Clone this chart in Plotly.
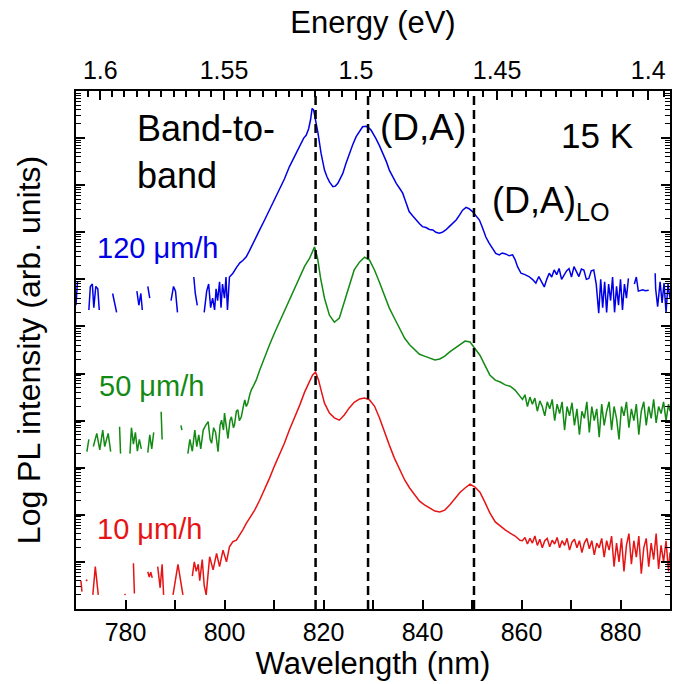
import plotly.graph_objects as go

# ---------------- data (log10 PL intensity, arb. offset per curve) ----------------
wl_120 = [770.0, 770.3, 770.6, 772.6, 772.9, 773.3, 773.6, 774.0, 774.4, 774.7, 775.0,
          777.4, 778.2, 778.5, 782.3, 782.7, 783.1, 783.4, 783.7, 784.5, 784.9, 785.2,
          789.2, 789.7, 790.1, 790.5, 790.8, 793.8, 794.1, 794.5, 794.9, 795.9, 796.4,
          796.8, 797.2, 797.6, 798.0, 798.3, 798.6, 799.0, 799.3, 799.6, 800.0, 800.3,
          800.6, 801.0, 801.7, 802.4, 803.1, 803.7, 804.4, 805.0, 805.7, 806.4, 807.1,
          808.1, 809.1, 810.1, 811.1, 812.1, 813.1, 814.2, 815.2, 816.0, 816.5, 817.0,
          817.4, 817.7, 818.0, 818.3, 818.9, 819.5, 820.2, 820.7, 821.2, 821.9, 822.4,
          822.9, 823.4, 823.9, 824.5, 825.2, 825.9, 826.6, 827.3, 827.9, 828.6, 829.1,
          829.6, 830.1, 830.6, 831.3, 832.0, 832.7, 833.3, 834.0, 834.7, 835.4, 836.0,
          836.7, 837.3, 838.0, 838.7, 839.4, 840.0, 840.7, 841.4, 842.1, 842.7, 843.4,
          844.0, 844.7, 845.4, 846.1, 846.8, 847.5, 848.1, 848.8, 849.4, 850.1, 850.8,
          851.5, 852.1, 852.8, 853.4, 854.1, 854.8, 855.5, 856.1, 856.8, 857.5, 858.2,
          858.7, 859.2, 859.9, 860.7, 861.5, 862.2, 862.9, 863.5, 864.0, 864.6, 865.1,
          865.6, 866.1, 866.6, 867.1, 867.6, 868.1, 868.6, 869.1, 869.6, 870.1, 870.6,
          871.1, 871.6, 872.1, 872.6, 873.1, 873.6, 874.1, 874.6, 875.1, 875.6, 876.0,
          876.4, 876.8, 877.2, 877.6, 878.0, 878.4, 878.8, 879.2, 879.6, 880.0, 880.4,
          880.8, 881.2, 881.6, 882.0, 882.8, 883.2, 883.6, 884.0, 884.5, 885.0, 885.7,
          886.2, 887.0, 887.1, 887.5, 888.0, 888.4, 888.8, 889.2, 889.6, 890.0]
log_120 = [6.45, 6.95, None, 6.35, 6.85, 6.9, 6.4, 6.85, 6.8, 6.35, None,
           6.7, 6.3, None, 6.75, 6.45, 6.7, 6.35, None, 6.85, 6.6, None,
           6.55, 6.85, 6.75, 6.3, None, 7.05, 6.7, 6.45, None, 6.3, 6.75,
           6.9, 6.4, 6.6, 6.35, 6.8, 6.55, 6.95, 6.4, 6.9, 6.6, 7.05,
           6.35, 7.05, 7.13, 7.25, 7.35, 7.4, 7.48, 7.6, 7.76, 7.9, 8.05,
           8.26, 8.47, 8.68, 8.89, 9.13, 9.39, 9.62, 9.82, 10.0, 10.06, 10.2,
           10.4, 10.63, 10.6, 10.45, 10.1, 9.68, 9.32, 9.18, 9.07, 8.97, 8.98,
           9.04, 9.13, 9.25, 9.45, 9.68, 9.86, 10.03, 10.16, 10.24, 10.25, 10.22,
           10.17, 10.09, 9.99, 9.84, 9.68, 9.5, 9.32, 9.17, 9.04, 8.93, 8.83,
           8.62, 8.44, 8.35, 8.26, 8.18, 8.12, 8.1, 8.06, 8.05, 8.0, 7.98,
           8.0, 8.05, 8.12, 8.18, 8.26, 8.37, 8.47, 8.53, 8.5, 8.44, 8.36,
           8.26, 8.1, 7.9, 7.78, 7.66, 7.55, 7.52, 7.56, 7.54, 7.5, 7.52,
           7.42, 7.27, 7.13, 7.1, 7.06, 7.0, 6.92, 7.06, 6.95, 6.84, 7.0,
           7.13, 7.05, 7.2, 7.1, 7.23, 7.0, 7.09, 7.18, 7.23, 7.05, 7.27,
           7.15, 7.06, 7.22, 7.2, 7.0, 7.02, 7.18, 7.2, 6.9, 6.28, 7.0,
           6.4, 6.95, 6.3, 6.9, 6.55, 7.05, 6.3, 6.85, 6.45, 7.0, 6.35,
           6.9, 6.6, 7.02, None, 6.9, 7.05, 6.75, 6.77, 6.78, 6.76, 6.77,
           None, 7.13, 6.8, 6.42, 6.95, 6.5, 6.92, 6.3, 6.9, 6.6]

wl_50 = [770.0, 772.2, 772.6, 772.9, 773.5, 774.2, 774.8, 775.4, 775.8, 776.5, 777.0, 777.3,
         778.8, 779.0, 779.3, 780.9, 781.2, 781.6, 782.0, 782.4, 782.8, 783.2, 783.5,
         784.5, 784.9, 785.3, 785.7, 786.0, 787.2, 787.4, 787.7, 791.2, 791.4, 791.7,
         792.6, 793.0, 793.5, 794.0, 794.4, 794.8, 795.2, 795.7, 796.2, 796.7, 797.1,
         797.4, 797.8, 798.2, 798.7, 799.1, 799.4, 799.8, 800.0, 800.4, 800.7, 801.1,
         801.4, 801.8, 802.0, 802.4, 802.7, 803.0, 803.4, 803.8, 804.1, 804.4, 804.7,
         805.1, 805.4, 805.9, 806.4, 807.1, 808.1, 809.1, 810.1, 811.1, 812.1, 813.1,
         814.2, 815.2, 816.2, 817.2, 817.8, 818.2, 818.8, 819.4, 820.2, 821.2, 822.2,
         823.2, 824.2, 825.2, 826.2, 827.3, 828.3, 829.3, 830.3, 831.3, 832.3, 833.3,
         834.3, 835.4, 836.4, 837.4, 838.4, 839.4, 840.4, 841.5, 842.5, 843.5, 844.5,
         845.5, 846.6, 847.6, 848.6, 849.6, 850.6, 851.6, 852.6, 853.6, 854.7, 855.7,
         856.7, 857.7, 858.7, 859.7, 860.2, 860.7, 861.2, 861.7, 862.2, 862.7, 863.2,
         863.7, 864.2, 864.7, 865.2, 865.7, 866.2, 866.7, 867.2, 867.7, 868.2, 868.7,
         869.2, 869.7, 870.2, 870.7, 871.2, 871.7, 872.2, 872.7, 873.2, 873.7, 874.2,
         874.7, 875.2, 875.7, 876.2, 876.7, 877.2, 877.7, 878.2, 878.7, 879.2, 879.7,
         880.2, 880.7, 881.2, 881.7, 882.2, 882.7, 883.2, 883.7, 884.2, 884.7, 885.2,
         885.7, 886.2, 886.7, 887.2, 887.7, 888.2, 888.7, 889.2, 889.7, 890.0]
log_50 = [None, 3.34, 3.6, None, 3.45, 3.73, 3.38, 3.8, 3.45, 3.73, 3.34, None,
          3.87, 3.3, None, 3.3, 3.85, 3.5, 3.75, 3.35, 3.6, 3.4, None,
          3.32, 3.7, 3.4, 3.75, None, 4.19, 3.6, None, 3.9, 3.8, None,
          3.3, 3.6, 3.35, 3.8, 3.45, 3.7, 3.4, 3.8, 3.9, 3.98, 3.6,
          3.52, 3.85, 3.75, 3.34, 3.9, 4.01, 3.8, 4.16, 3.9, 3.62, 4.0,
          4.08, 3.85, 3.9, 4.2, 4.23, 4.0, 4.08, 4.3, 4.44, 4.3, 4.37,
          4.55, 4.65, 4.75, 4.86, 5.07, 5.35, 5.61, 5.86, 6.09, 6.35, 6.58,
          6.82, 7.05, 7.28, 7.45, 7.62, 7.69, 7.45, 7.03, 6.6, 6.24, 6.09,
          6.18, 6.52, 6.88, 7.2, 7.37, 7.47, 7.41, 7.2, 6.94, 6.67, 6.39,
          6.18, 5.97, 5.75, 5.61, 5.5, 5.41, 5.37, 5.33, 5.29, 5.31, 5.37,
          5.46, 5.54, 5.63, 5.69, 5.67, 5.54, 5.39, 5.18, 4.97, 4.86, 4.82,
          4.76, 4.73, 4.65, 4.52, 4.45, 4.55, 4.3, 4.5, 4.35, 4.48, 4.2,
          4.42, 4.3, 4.1, 4.4, 4.25, 4.45, 4.0, 4.35, 4.15, 4.4, 3.8,
          4.3, 4.1, 4.38, 3.9, 4.25, 3.7, 4.2, 4.05, 4.4, 3.75, 4.3,
          4.0, 4.25, 3.65, 4.35, 3.9, 4.2, 4.4, 3.8, 4.3, 4.05, 3.6,
          4.3, 4.1, 4.4, 3.85, 4.25, 4.0, 4.35, 3.7, 4.2, 4.4, 3.9,
          4.3, 4.05, 4.45, 3.95, 4.3, 4.15, 4.4, 4.0, 4.35, 4.2]

wl_10 = [770.0, 771.0, 771.2, 771.4, 772.0, 772.3, 772.5, 773.4, 773.9, 774.5, 774.8,
         779.8, 780.0, 780.2, 781.6, 781.8, 782.1, 784.5, 784.8, 785.1, 785.4, 785.7,
         786.5, 787.0, 787.4, 787.7, 788.0, 789.6, 790.6, 791.6, 791.9, 793.5, 793.9,
         794.3, 794.7, 795.0, 795.5, 795.9, 796.3, 797.0, 797.7, 798.4, 799.0, 799.7,
         800.4, 801.0, 801.7, 802.4, 803.0, 803.7, 804.4, 805.1, 806.1, 807.1, 808.1,
         809.1, 810.1, 811.1, 812.1, 813.1, 814.2, 815.2, 816.2, 817.2, 817.8, 818.4,
         819.0, 819.6, 820.2, 821.2, 822.2, 823.2, 824.2, 825.2, 826.2, 827.3, 828.3,
         829.3, 830.3, 831.3, 832.3, 833.3, 834.3, 835.4, 836.4, 837.4, 838.4, 839.4,
         840.4, 841.5, 842.5, 843.5, 844.5, 845.5, 846.6, 847.6, 848.6, 849.6, 850.6,
         851.6, 852.6, 853.6, 854.7, 855.7, 856.7, 857.7, 858.7, 859.7, 860.2, 860.7,
         861.2, 861.7, 862.2, 862.7, 863.2, 863.7, 864.2, 864.7, 865.2, 865.7, 866.2,
         866.7, 867.2, 867.7, 868.2, 868.7, 869.2, 869.7, 870.2, 870.7, 871.2, 871.7,
         872.2, 872.7, 873.2, 873.7, 874.2, 874.7, 875.2, 875.7, 876.2, 876.7, 877.2,
         877.7, 878.2, 878.7, 879.2, 879.7, 880.2, 880.7, 881.2, 881.7, 882.2, 882.7,
         883.2, 883.7, 884.2, 884.7, 885.2, 885.7, 886.2, 886.7, 887.2, 887.7, 888.2,
         888.7, 889.2, 889.7, 890.0]
log_10 = [None, 0.6, 0.37, None, 0.62, 0.6, None, 0.3, 0.9, 0.3, None,
          0.32, 0.3, None, 0.97, 0.33, None, 0.79, 0.68, 0.78, 0.66, None,
          0.9, 0.45, 0.95, 0.3, None, 0.3, 0.95, 0.3, None, 0.7, 1.0,
          0.8, 0.95, 0.6, 1.05, 0.5, 0.3, 1.11, 0.83, 1.18, 0.9, 1.25,
          1.0, 1.32, 1.43, 1.46, 1.55, 1.68, 1.82, 1.93, 2.1, 2.31, 2.53,
          2.78, 3.04, 3.27, 3.52, 3.8, 4.06, 4.33, 4.61, 4.82, 4.97, 5.03,
          4.86, 4.61, 4.37, 4.16, 4.06, 4.01, 4.12, 4.27, 4.39, 4.46, 4.48,
          4.44, 4.31, 4.06, 3.76, 3.48, 3.21, 2.95, 2.74, 2.57, 2.42, 2.29,
          2.21, 2.14, 2.08, 2.06, 2.1, 2.21, 2.36, 2.48, 2.57, 2.65, 2.59,
          2.48, 2.27, 2.04, 1.85, 1.76, 1.68, 1.61, 1.55, 1.46, 1.45, 1.52,
          1.38, 1.5, 1.4, 1.55, 1.35, 1.48, 1.3, 1.45, 1.5, 1.32, 1.46,
          1.38, 1.52, 1.3, 1.45, 1.35, 1.5, 1.25, 1.42, 1.48, 1.3, 1.45,
          1.2, 1.4, 1.5, 1.28, 1.45, 1.15, 1.4, 1.3, 1.5, 1.1, 1.45,
          1.25, 1.55, 0.9, 1.4, 1.0, 1.5, 0.8, 1.35, 1.6, 0.95, 1.45,
          1.1, 1.55, 0.75, 1.3, 1.5, 0.9, 1.4, 1.05, 1.6, 0.85, 1.35,
          1.0, 1.45, 0.8, 1.2]

series_names = ["120 μm/h", "50 μm/h", "10 μm/h"]
series_colors = ["#0000E6", "#138A13", "#E61414"]
peak_lines_nm = [818.4, 829.0, 850.4]
energy_major = [1.6, 1.55, 1.5, 1.45, 1.4]
energy_major_text = ["1.6", "1.55", "1.5", "1.45", "1.4"]
wl_major = [780, 800, 820, 840, 860, 880]
wl_minor = [790, 810, 830, 850, 870]

HC = 1239.84
FONT = "Liberation Sans, Arial, sans-serif"

fig = go.Figure()
for wl, lg, name, col in zip([wl_120, wl_50, wl_10], [log_120, log_50, log_10],
                             series_names, series_colors):
    yy = [None if v is None else 10 ** v for v in lg]
    fig.add_trace(go.Scatter(x=wl, y=yy, mode="lines", name=name,
                             line=dict(color=col, width=1.5), connectgaps=False,
                             hoverinfo="skip"))

# invisible trace to hold the secondary (top / right) axes
fig.add_trace(go.Scatter(x=[None], y=[None], xaxis="x2", yaxis="y2",
                         showlegend=False, hoverinfo="skip"))

for wl in peak_lines_nm:
    fig.add_shape(type="line", xref="x", yref="paper", x0=wl, x1=wl, y0=0, y1=1,
                  line=dict(color="black", width=2.5, dash="9px,5px"))

e_minor = [round(1.395 + 0.005 * i, 3) for i in range(0, 44)]
e_minor = [e for e in e_minor if all(abs(e - m) > 1e-6 for m in energy_major)]
e_minor_wl = [HC / e for e in e_minor if 770 <= HC / e <= 890]

y_major = [10 ** n for n in range(0, 12)]
y_minor = [k * 10 ** n for n in range(0, 11) for k in range(2, 10)]

axis_common = dict(showline=True, linecolor="black", linewidth=2, ticks="inside",
                   tickcolor="black", tickwidth=1.5, showgrid=False, zeroline=False)

fig.update_layout(
    width=674, height=684,
    margin=dict(l=76, r=4, t=91, b=75),
    paper_bgcolor="white", plot_bgcolor="white",
    showlegend=False,
    font=dict(family=FONT, color="black"),
    xaxis=dict(range=[770, 890], tickmode="array", tickvals=wl_major,
               ticklen=9, tickfont=dict(size=25),
               minor=dict(tickmode="array", tickvals=wl_minor, ticks="inside",
                          ticklen=9, tickcolor="black", tickwidth=1.5),
               title=dict(text="Wavelength (nm)", font=dict(size=31), standoff=2),
               **axis_common),
    xaxis2=dict(range=[770, 890], overlaying="x", side="top", anchor="y",
                tickmode="array", tickvals=[HC / e for e in energy_major],
                ticktext=energy_major_text, ticklen=9, tickfont=dict(size=25),
                minor=dict(tickmode="array", tickvals=e_minor_wl, ticks="inside",
                           ticklen=6, tickcolor="black", tickwidth=1.5),
                title=dict(text="Energy (eV)", font=dict(size=31), standoff=13),
                **axis_common),
    yaxis=dict(type="log", range=[0, 11], tickmode="array", tickvals=y_major,
               showticklabels=False, ticklen=9,
               minor=dict(tickmode="array", tickvals=y_minor, ticks="inside",
                          ticklen=5, tickcolor="black", tickwidth=1.2),
               title=dict(text="Log PL intensity (arb. units)", font=dict(size=32),
                          standoff=24),
               **axis_common),
    yaxis2=dict(type="log", range=[0, 11], overlaying="y", side="right", anchor="x",
                tickmode="array", tickvals=y_major, showticklabels=False, ticklen=9,
                minor=dict(tickmode="array", tickvals=y_minor, ticks="inside",
                           ticklen=5, tickcolor="black", tickwidth=1.2),
                **axis_common),
)

def px_to_paper(px, py):
    return (px - 76) / 594.0, (609 - py) / 518.0

annos = [
    ("Band-to-<br>band", 135, 152, "left", 36, "black"),
    ("(D,A)", 378, 128, "left", 37, "black"),
    ("15 K", 597, 135, "center", 35, "black"),
    ("(D,A)<sub>LO</sub>", 490, 203, "left", 36, "black"),
    (series_names[0], 95, 248, "left", 29, series_colors[0]),
    (series_names[1], 97, 386, "left", 29, series_colors[1]),
    (series_names[2], 95, 529, "left", 29, series_colors[2]),
]
for text, px, py, xa, size, col in annos:
    ax, ay = px_to_paper(px, py)
    fig.add_annotation(text=text, x=ax, y=ay, xref="paper", yref="paper",
                       xanchor=xa, yanchor="middle", showarrow=False, align="left",
                       font=dict(size=size, color=col, family=FONT))

fig.write_html("out.html")
